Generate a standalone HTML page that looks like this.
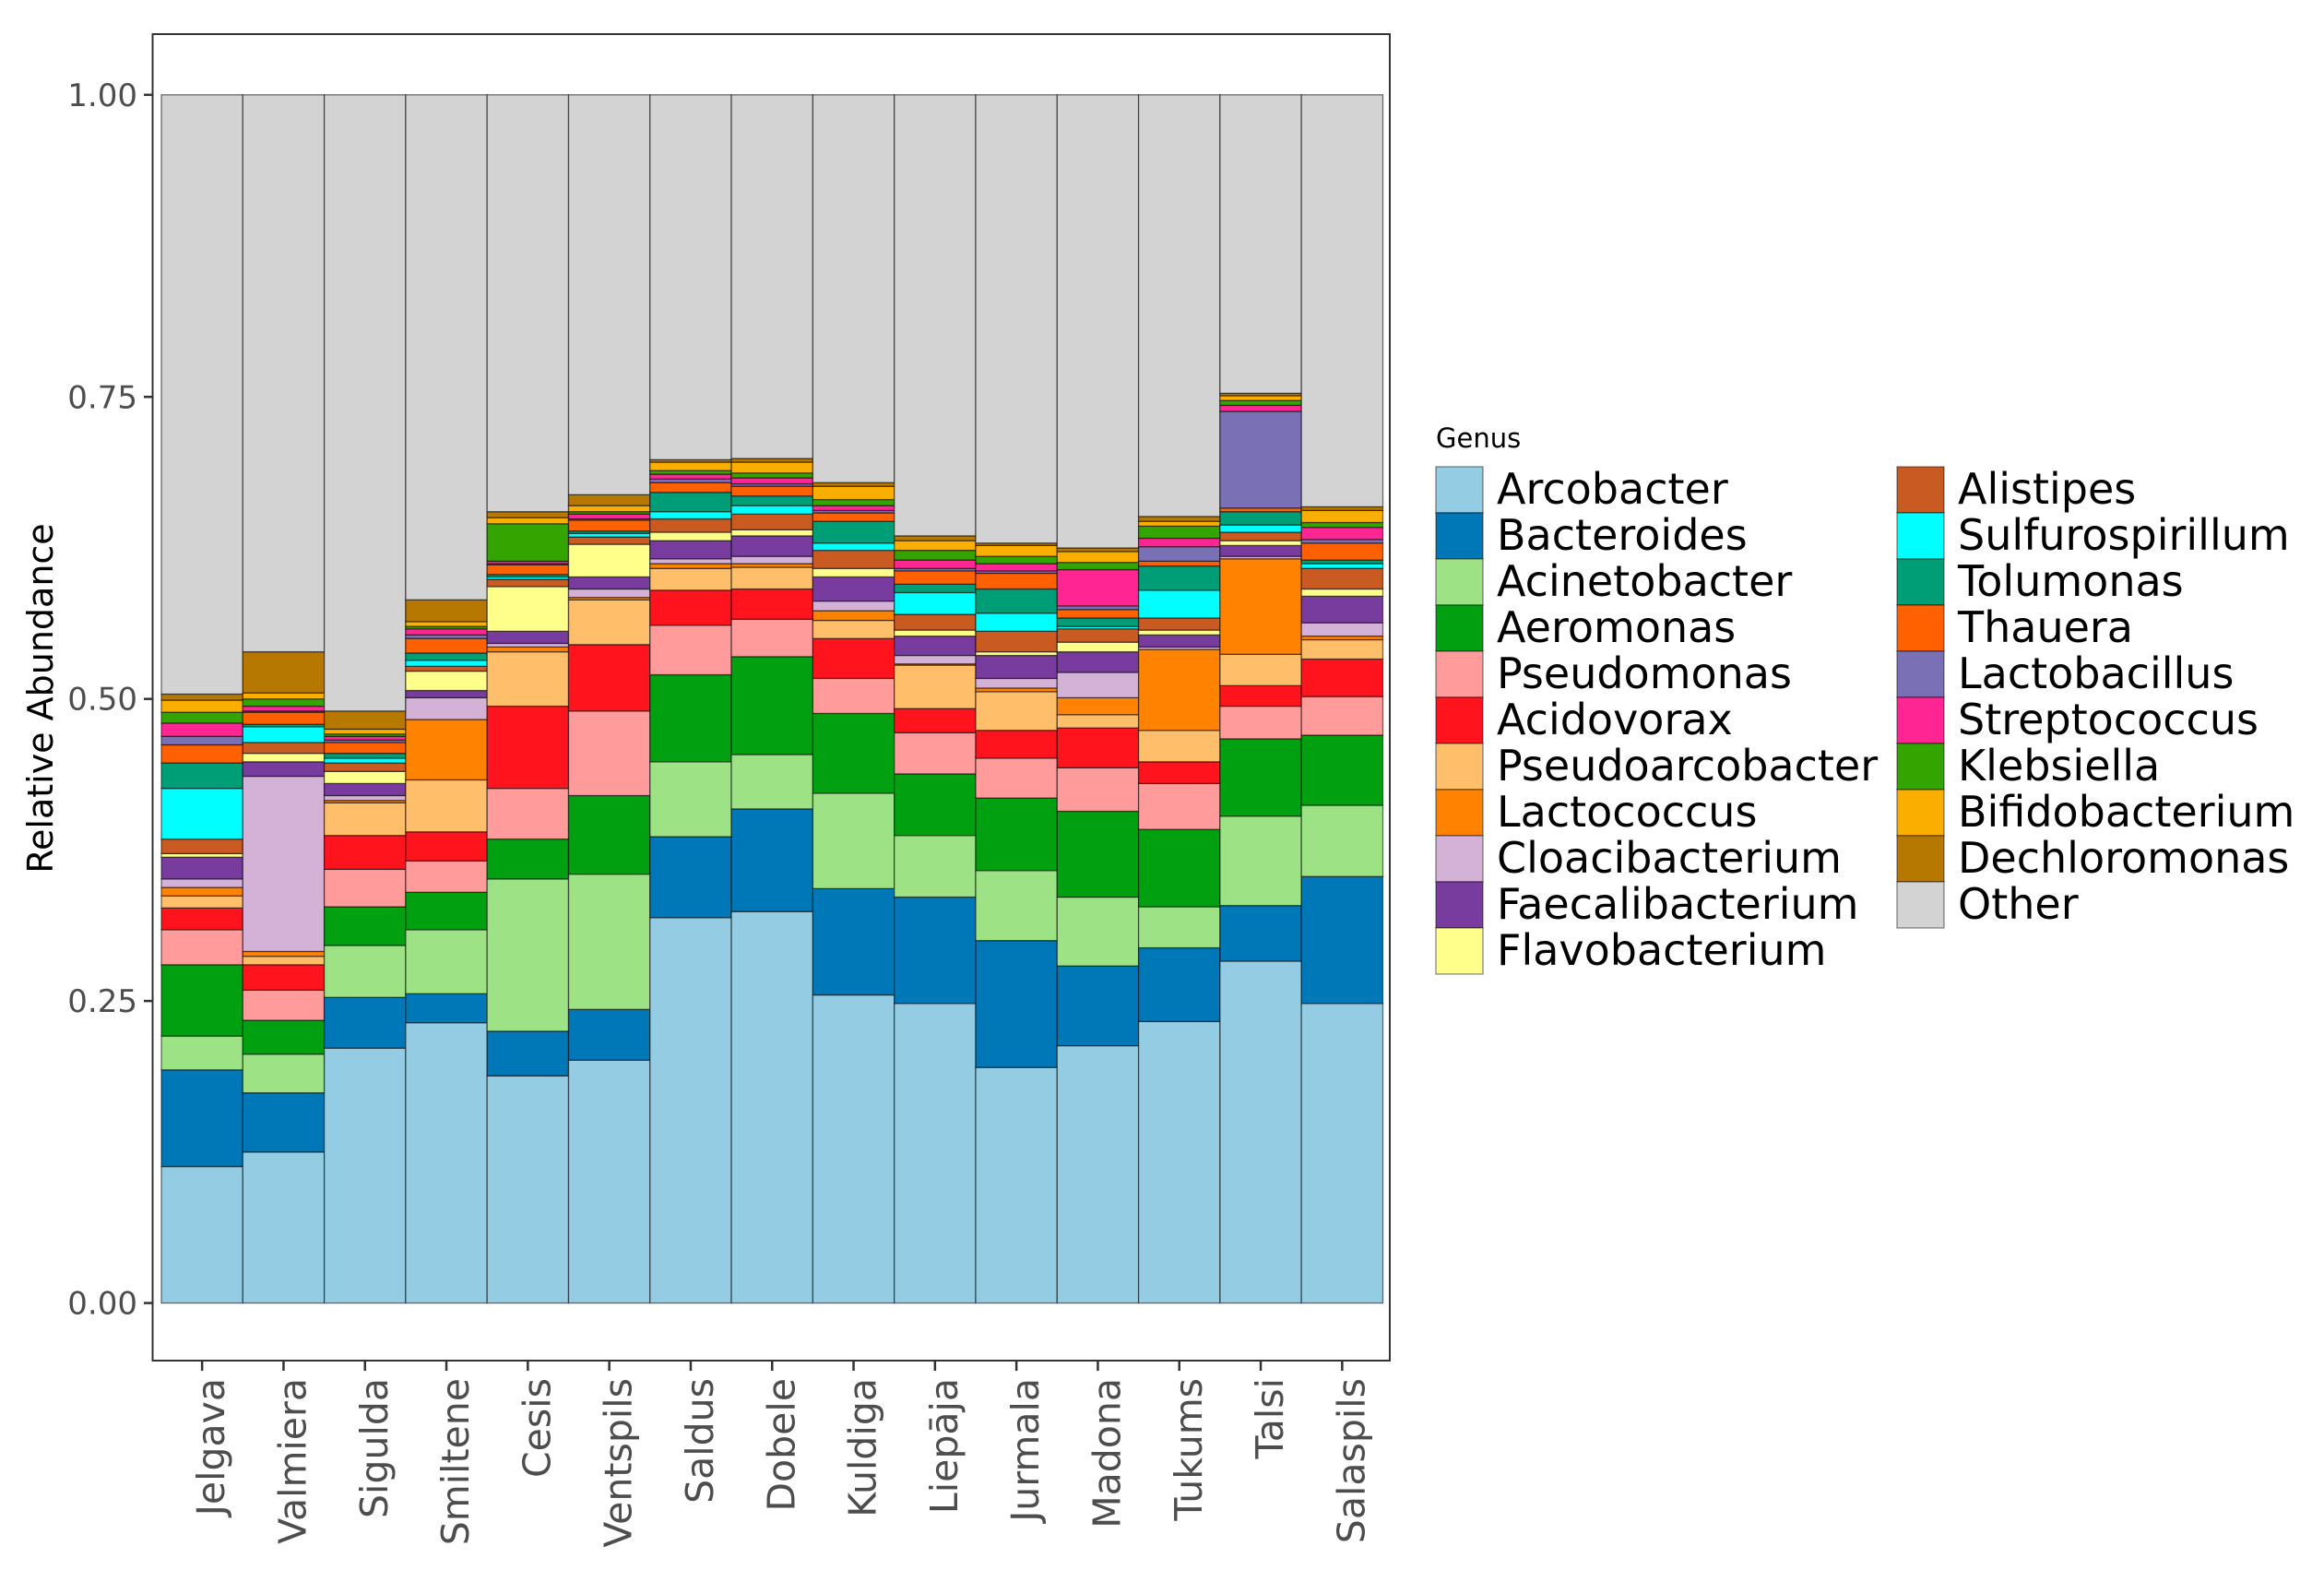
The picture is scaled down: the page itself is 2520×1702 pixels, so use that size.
<!DOCTYPE html>
<html><head><meta charset="utf-8"><title>Relative Abundance</title>
<style>html,body{margin:0;padding:0;background:#fff}svg{display:block;font-family:"DejaVu Sans","Liberation Sans",sans-serif}</style>
</head><body>
<svg id="chart" width="2520" height="1702" viewBox="0 0 2520 1702" xmlns="http://www.w3.org/2000/svg"></svg>
<script>
const samples = ["Jelgava","Valmiera","Sigulda","Smiltene","Cesis","Ventspils","Saldus","Dobele","Kuldiga","Liepāja","Jurmala","Madona","Tukums","Talsi","Salaspils"];
const genera = ["Arcobacter","Bacteroides","Acinetobacter","Aeromonas","Pseudomonas","Acidovorax","Pseudoarcobacter","Lactococcus","Cloacibacterium","Faecalibacterium","Flavobacterium","Alistipes","Sulfurospirillum","Tolumonas","Thauera","Lactobacillus","Streptococcus","Klebsiella","Bifidobacterium","Dechloromonas","Other"];
const colors = ["#94CDE3","#0077B6","#9DE386","#00A010","#FF9B9B","#FF141E","#FFBE6A","#FF8200","#D4B2D8","#783C9E","#FFFF8C","#C85A22","#00FFFF","#009E76","#FF6000","#7A70B6","#FF2693","#34A500","#F9AE00","#B77800","#D3D3D3"];
const arcobacter = [.113,.125,.211,.232,.188,.201,.319,.324,.255,.248,.195,.213,.233,.283,.248];
const bacteroides = [.080,.049,.042,.024,.037,.042,.067,.085,.088,.088,.105,.066,.061,.046,.105];
const acinetobacter = [.028,.032,.043,.053,.126,.112,.062,.045,.079,.051,.058,.057,.034,.074,.059];
const aeromonas = [.059,.028,.032,.031,.033,.065,.072,.081,.066,.051,.060,.071,.064,.064,.058];
const pseudomonas = [.029,.025,.031,.026,.042,.070,.041,.031,.029,.034,.033,.036,.038,.027,.032];
const acidovorax = [.018,.021,.028,.024,.068,.055,.029,.025,.033,.020,.023,.033,.018,.017,.031];
const pseudoarcobacter = [.010,.007,.027,.043,.045,.037,.018,.018,.015,.036,.032,.011,.026,.026,.016];
const lactococcus = [.007,.004,.002,.050,.004,.002,.004,.003,.008,.001,.003,.014,.067,.079,.003];
const cloacibacterium = [.007,.145,.004,.018,.003,.007,.004,.006,.008,.007,.008,.021,.002,.002,.011];
const faecalibacterium = [.018,.012,.010,.006,.010,.010,.015,.017,.020,.016,.019,.017,.010,.009,.022];
const flavobacterium = [.003,.007,.010,.016,.037,.027,.007,.005,.007,.005,.003,.008,.004,.004,.006];
const alistipes = [.012,.009,.007,.004,.006,.006,.011,.013,.015,.013,.017,.011,.010,.007,.017];
const sulfurospirillum = [.042,.013,.004,.005,.002,.003,.006,.007,.006,.018,.015,.002,.023,.006,.004];
const tolumonas = [.021,.002,.004,.006,.002,.002,.016,.008,.018,.007,.020,.007,.020,.011,.003];
const thauera = [.015,.010,.009,.012,.008,.009,.008,.008,.007,.011,.013,.007,.004,.003,.014];
const lactobacillus = [.007,.001,.002,.003,.001,.001,.003,.002,.002,.002,.002,.003,.012,.080,.003];
const streptococcus = [.011,.004,.003,.005,.002,.004,.004,.005,.004,.007,.006,.030,.007,.005,.010];
const klebsiella = [.009,.006,.002,.002,.031,.002,.003,.004,.005,.008,.006,.006,.010,.004,.004];
const bifidobacterium = [.010,.005,.004,.004,.005,.005,.007,.009,.011,.008,.009,.009,.004,.004,.010];
const dechloromonas = [.005,.034,.015,.018,.005,.009,.002,.003,.003,.004,.002,.003,.004,.002,.003];
const yTicks = [0,0.25,0.5,0.75,1];
const yTickLabels = ["0.00","0.25","0.50","0.75","1.00"];

const series = [arcobacter,bacteroides,acinetobacter,aeromonas,pseudomonas,acidovorax,pseudoarcobacter,lactococcus,cloacibacterium,faecalibacterium,flavobacterium,alistipes,sulfurospirillum,tolumonas,thauera,lactobacillus,streptococcus,klebsiella,bifidobacterium,dechloromonas];

const NS = "http://www.w3.org/2000/svg";
const svg = document.getElementById("chart");
function mk(tag, attrs, parent){ const e=document.createElementNS(NS,tag); for(const k in attrs) e.setAttribute(k,attrs[k]); (parent||svg).appendChild(e); return e; }

const plotL=175, plotR=1499.5, y0px=1412.6, y1px=102.8;
const bw=(plotR-plotL)/samples.length;
function xScale(i){ return plotL + i*bw; }
function yScale(v){ return y0px - v*(y0px-y1px); }

const panel = mk("rect",{x:165.5,y:37,width:1341.5,height:1438,fill:"#fff",stroke:"#333","stroke-width":2});



const barsG = mk("g",{});


samples.forEach((s,i)=>{
  let cum=0;
  const vals = series.map(a=>a[i]);
  const other = Math.max(0, 1 - vals.reduce((p,c)=>p+c,0));
  vals.push(other);
  vals.forEach((v,g)=>{
    const top=yScale(cum+v), bot=yScale(cum);
    const r = mk("rect",{x:xScale(i),y:top,width:bw,height:Math.max(0,bot-top),fill:colors[g],stroke:"#000","stroke-opacity":0.55,"stroke-width":1.3},barsG);
    
    
    cum+=v;
  });
  const cx = xScale(i)+bw/2;
  const t = mk("line",{x1:cx,x2:cx,y1:1475,y2:1486,stroke:"#333","stroke-width":2.5});
  
  
  const lb = mk("text",{x:0,y:0,transform:`translate(${cx+24},1494) rotate(-90)`,"text-anchor":"end","font-size":41,fill:"#4d4d4d"});
  lb.textContent=s;
  
  
});

yTicks.forEach((v,k)=>{
  const y=yScale(v);
  const t = mk("line",{x1:156,x2:165.5,y1:y,y2:y,stroke:"#333","stroke-width":2.5});
  
  
  const lb = mk("text",{x:149,y:y+12,"text-anchor":"end","font-size":34,fill:"#4d4d4d"});
  lb.textContent=yTickLabels[k];
  
  
});

const yt = mk("text",{x:0,y:0,transform:"translate(57,757) rotate(-90)","text-anchor":"middle","font-size":38,fill:"#000"});
yt.textContent="Relative Abundance";



const lg = mk("g",{});


const lt = mk("text",{x:1557,y:485,"font-size":29,fill:"#000"},lg);
lt.textContent="Genus";


genera.forEach((g,k)=>{
  const col = k<11?0:1, row = k<11?k:k-11;
  const kx = col===0?1557:2057, ky = 506+row*50;
  const key = mk("rect",{x:kx,y:ky,width:51,height:50,fill:colors[k],stroke:"#000","stroke-opacity":0.45,"stroke-width":1.3},lg);
  
  
  const tx = mk("text",{x:kx+66,y:ky+40,"font-size":46,fill:"#000"},lg);
  tx.textContent=g;
  
  
});
</script>
</body></html>
